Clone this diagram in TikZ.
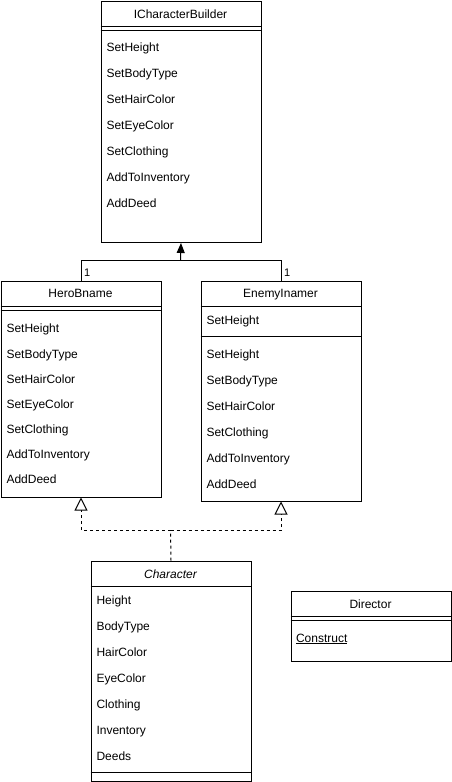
\documentclass[tikz,border=0pt]{standalone}
\usepackage{fontspec}
\setmainfont{Liberation Sans}
\usetikzlibrary{arrows.meta}
\begin{document}
\begin{tikzpicture}[x=1pt,y=-1pt,line width=1pt,
  box/.style={draw,line width=1pt,anchor=north west,inner sep=0pt,minimum width=160pt},
  item/.style={anchor=base west,inner sep=0pt,font=\fontsize{12}{14}\selectfont},
  ttl/.style={anchor=base,inner sep=0pt,font=\fontsize{12}{14}\selectfont},
  mult/.style={anchor=base west,inner sep=0pt,font=\fontsize{11}{13}\selectfont},
  real/.style={dashed,dash pattern=on 3pt off 3pt},
  openhead/.style={-{Triangle[open,width=13pt,length=13pt,fill=white]}}]
\useasboundingbox (0,0) rectangle (452,782);

% ICharacterBuilder
\node[box,minimum height=241.5pt] (icb) at (100.5,0.5) {};
\draw ([yshift=-26pt]icb.north west) -- ([yshift=-26pt]icb.north east);
\draw ([yshift=-30pt]icb.north west) -- ([yshift=-30pt]icb.north east);
\node[ttl] (icbt) at (180.5,18) {ICharacterBuilder};
\node[item] (icb1) at (106,51.5) {SetHeight};
\node[item] (icb2) at (106,77.5) {SetBodyType};
\node[item] (icb3) at (106,103.5) {SetHairColor};
\node[item] (icb4) at (106,129.5) {SetEyeColor};
\node[item] (icb5) at (106,155.5) {SetClothing};
\node[item] (icb6) at (106,181.5) {AddToInventory};
\node[item] (icb7) at (106,207.5) {AddDeed};

% HeroBname
\node[box,minimum height=216pt] (hero) at (0.5,280.5) {};
\draw ([yshift=-26pt]hero.north west) -- ([yshift=-26pt]hero.north east);
\draw ([yshift=-30pt]hero.north west) -- ([yshift=-30pt]hero.north east);
\node[ttl] (herot) at (80.5,297.5) {HeroBname};
\node[item] (h1) at (6,332) {SetHeight};
\node[item] (h2) at (6,358) {SetBodyType};
\node[item] (h3) at (6,383) {SetHairColor};
\node[item] (h4) at (6,408) {SetEyeColor};
\node[item] (h5) at (6,433) {SetClothing};
\node[item] (h6) at (6,458) {AddToInventory};
\node[item] (h7) at (6,483) {AddDeed};

% EnemyInamer
\node[box,minimum height=220pt] (enemy) at (200.5,280.5) {};
\draw ([yshift=-26pt]enemy.north west) -- ([yshift=-26pt]enemy.north east);
\draw ([yshift=-56pt]enemy.north west) -- ([yshift=-56pt]enemy.north east);
\node[ttl] (enemyt) at (280.5,297.5) {EnemyInamer};
\node[item] (e0) at (206,324) {SetHeight};
\node[item] (e1) at (206,358) {SetHeight};
\node[item] (e2) at (206,384) {SetBodyType};
\node[item] (e3) at (206,410) {SetHairColor};
\node[item] (e4) at (206,436) {SetClothing};
\node[item] (e5) at (206,462) {AddToInventory};
\node[item] (e6) at (206,488) {AddDeed};

% Character
\node[box,minimum height=220pt] (char) at (90.5,560.5) {};
\draw ([yshift=-26pt]char.north west) -- ([yshift=-26pt]char.north east);
\draw ([yshift=-212pt]char.north west) -- ([yshift=-212pt]char.north east);
\node[ttl,font=\fontsize{12}{14}\selectfont\itshape] (chart) at (170.5,578) {Character};
\node[item] (c1) at (96,604.5) {Height};
\node[item] (c2) at (96,630.5) {BodyType};
\node[item] (c3) at (96,656.5) {HairColor};
\node[item] (c4) at (96,682.5) {EyeColor};
\node[item] (c5) at (96,708) {Clothing};
\node[item] (c6) at (96,734) {Inventory};
\node[item] (c7) at (96,760) {Deeds};

% Director
\node[box,minimum height=70pt] (dir) at (290.5,590.5) {};
\draw ([yshift=-26pt]dir.north west) -- ([yshift=-26pt]dir.north east);
\draw ([yshift=-30pt]dir.north west) -- ([yshift=-30pt]dir.north east);
\node[ttl] (dirt) at (370.5,608) {Director};
\node[item] (d1) at (295.5,642) {\underline{Construct}};

% association to ICharacterBuilder
\coordinate (jn) at (180.5,260.5);
\draw (hero.north) |- (jn);
\draw (enemy.north) |- (jn);
\draw[-{Triangle[width=8pt,length=10pt]}] (jn) -- (icb.south);
\node[mult] (m1) at (83.5,276) {1};
\node[mult] (m2) at (283.5,276) {1};

% realizations
\coordinate (rj) at (170.5,530.5);
\draw[real] (char.north) -- (rj);
\draw[real,openhead] (rj) -| (hero.south);
\draw[real,openhead] (rj) -| (enemy.south);
\end{tikzpicture}
\end{document}
